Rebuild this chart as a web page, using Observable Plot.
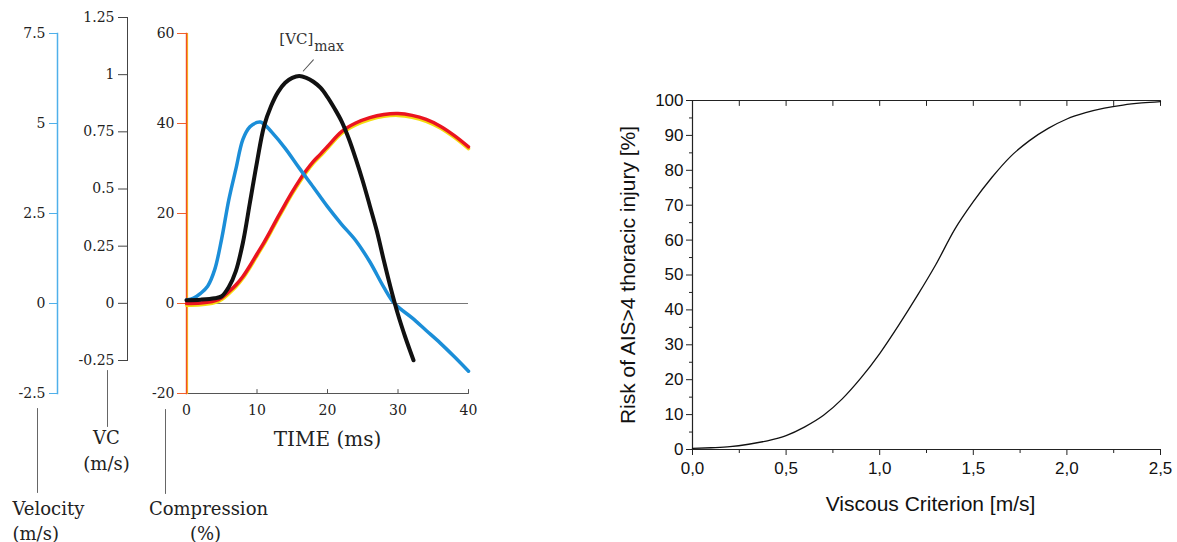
<!DOCTYPE html>
<html><head><meta charset="utf-8">
<script src="https://cdn.jsdelivr.net/npm/d3@7"></script>
<script src="https://cdn.jsdelivr.net/npm/@observablehq/plot@0.6"></script>
<style>
html,body{margin:0;padding:0;background:#fff;}
#wrap{position:relative;width:1177px;height:542px;overflow:hidden;background:#fff;}
#wrap svg{position:absolute;left:0;top:0;background:transparent;overflow:visible;}
</style></head><body><div id="wrap"></div>
<script>
// ---------- Left panel data (time in ms) ----------
const timeTicks = [0, 10, 20, 30, 40];
const velTicks = [-2.5, 0, 2.5, 5, 7.5];
const vcTicks = [-0.25, 0, 0.25, 0.5, 0.75, 1, 1.25];
const compTicks = [-20, 0, 20, 40, 60];

// Velocity (m/s) - blue
const velTime = [0,1,2,3,4,5,6,7,8,9,10,10.5,11,12,14,16,18,20,22,24,26,28,29.5,32,34,36,38,40];
const velValue = [0.1,0.15,0.28,0.48,0.94,1.81,2.88,3.73,4.56,4.91,5.03,5.04,4.98,4.78,4.31,3.76,3.23,2.69,2.2,1.75,1.16,0.45,0,-0.4,-0.75,-1.1,-1.48,-1.88];

// VC (m/s) - black
const vcTime = [0,2,4,5,6,7,8,9,10,11,12,13,14,15,16,17,18,19,20,21,22,23,24,25,26,27,28,29,30,31,32.2];
const vcValue = [0.014,0.016,0.022,0.031,0.071,0.141,0.265,0.441,0.618,0.775,0.863,0.925,0.965,0.986,0.994,0.986,0.969,0.943,0.902,0.852,0.796,0.722,0.633,0.535,0.427,0.316,0.186,0.063,-0.049,-0.145,-0.249];

// Compression (%) - red
const compTime = [0,2,4,5,6,7,8,9,10,11,12,13,14,15,16,17,18,19,20,22,24,26,28,30,32,34,36,38,40];
const compValue = [0,0.1,0.6,1.3,2.6,4.1,6,8.4,11,13.6,16.4,19.3,22.1,24.8,27.3,29.6,31.6,33.2,34.9,38.2,40.1,41.3,42,42.2,41.8,40.9,39.4,37.3,34.8];

// ---------- Right panel data ----------
const vcCriterion = [0,0.1,0.2,0.3,0.4,0.5,0.6,0.7,0.8,0.9,1.0,1.1,1.2,1.3,1.4,1.5,1.6,1.7,1.8,1.9,2.0,2.1,2.2,2.3,2.4,2.5];
const riskPct = [0.3,0.5,0.8,1.5,2.5,4.0,6.5,9.8,14.5,20.5,27.5,35.5,44,53,63,71,78,84,88.5,92,94.7,96.5,97.8,98.7,99.3,99.7];
const riskXTicks = [0,0.5,1.0,1.5,2.0,2.5];
const riskXMinor = [0.25,0.75,1.25,1.75,2.25];
const riskXTop = [0.25,0.5,0.75,1.0,1.25,1.5,1.75,2.0,2.25,2.5];
const riskYTicks = [0,10,20,30,40,50,60,70,80,90,100];
const riskYMinor = [5,15,25,35,45,55,65,75,85,95];

// ---------- Build ----------
const W = 1177, H = 542;
const serif = "DejaVu Serif";
const sans = "Liberation Sans";
const txt = "#222";
const timeDomain = [0, 40];
const timeRange = [186, 468];
const lineShape = {draw(ctx, l) { ctx.moveTo(0, 0); ctx.lineTo(0, -l); }};
const fmt = d => String(d);

const velData = velTime.map((t, i) => ({t, v: velValue[i]}));
const vcData = vcTime.map((t, i) => ({t, vc: vcValue[i]}));
const compData = compTime.map((t, i) => ({t, c: compValue[i]}));
const riskData = vcCriterion.map((x, i) => ({x, r: riskPct[i]}));
const vcPeak = d3.greatest(vcData, d => d.vc);

const wrap = document.getElementById("wrap");

// Compression plot (also carries the time axis)
const plotComp = Plot.plot({
  width: W, height: H,
  marginLeft: 186, marginRight: W - 468, marginTop: 33, marginBottom: H - 393,
  x: {domain: timeDomain, label: null},
  y: {domain: [compTicks[0], compTicks[compTicks.length - 1]], label: null},
  style: {background: "transparent", fontFamily: serif},
  marks: [
    Plot.ruleY([0], {stroke: "#777", strokeWidth: 1}),
    Plot.ruleY([compTicks[0]], {stroke: "#555", strokeWidth: 1}),
    Plot.vector(timeTicks, {x: d => d, y: () => compTicks[0], length: 4, rotate: 0, anchor: "start", shape: lineShape, stroke: "#555", strokeWidth: 1}),
    Plot.axisX(timeTicks, {anchor: "bottom", tickSize: 0, tickPadding: 12, fill: txt, fontSize: 14, fontFamily: serif, tickFormat: fmt, label: null}),
    Plot.text(["TIME (ms)"], {frameAnchor: "bottom", dy: 52, fontSize: 20, fontFamily: serif, fill: "#222"}),
    Plot.frame({anchor: "left", stroke: "#f6c21c", strokeWidth: 1.2, dx: 1}),
    Plot.frame({anchor: "left", stroke: "#f0502a", strokeWidth: 1.4}),
    Plot.axisY(compTicks, {anchor: "left", tickSize: 9, tickPadding: 3, stroke: "#f0602c", fill: txt, fontSize: 14, fontFamily: serif, tickFormat: fmt, label: null}),
    Plot.line(compData, {x: "t", y: "c", stroke: "#f4dc10", strokeWidth: 3.5, dy: 1.8, curve: "catmull-rom"}),
    Plot.line(compData, {x: "t", y: "c", stroke: "#ea1420", strokeWidth: 3.5, curve: "catmull-rom"}),
    Plot.vector([0], {frameAnchor: "bottom-left", dx: -21, dy: 16, length: 84, rotate: 180, anchor: "start", shape: lineShape, stroke: "#666", strokeWidth: 1}),
    Plot.text(["Compression"], {frameAnchor: "bottom-left", textAnchor: "middle", dx: 22, dy: 121, fontSize: 18, fontFamily: serif, fill: "#222"}),
    Plot.text(["(%)"], {frameAnchor: "bottom-left", textAnchor: "middle", dx: 19, dy: 146, fontSize: 18, fontFamily: serif, fill: "#222"})
  ]
});

// Velocity plot
const plotVel = Plot.plot({
  width: W, height: H,
  marginLeft: 57, marginRight: W - 468, marginTop: 33, marginBottom: H - 393,
  x: {domain: timeDomain, range: timeRange, axis: null, label: null},
  y: {domain: [velTicks[0], velTicks[velTicks.length - 1]], label: null},
  style: {background: "transparent", fontFamily: serif},
  marks: [
    Plot.frame({anchor: "left", stroke: "#4fb0ea", strokeWidth: 1.5}),
    Plot.axisY(velTicks, {anchor: "left", tickSize: 8, tickPadding: 4, stroke: "#4fb0ea", fill: txt, fontSize: 14, fontFamily: serif, tickFormat: fmt, label: null}),
    Plot.line(velData, {x: "t", y: "v", stroke: "#1b8ed8", strokeWidth: 3.5, curve: "catmull-rom"}),
    Plot.vector([0], {frameAnchor: "bottom-left", dx: -20, dy: 15, length: 84, rotate: 180, anchor: "start", shape: lineShape, stroke: "#666", strokeWidth: 1}),
    Plot.text(["Velocity"], {frameAnchor: "bottom-left", dx: -45, dy: 121, textAnchor: "start", fontSize: 18, fontFamily: serif, fill: "#222"}),
    Plot.text(["(m/s)"], {frameAnchor: "bottom-left", dx: -45, dy: 146, textAnchor: "start", fontSize: 18, fontFamily: serif, fill: "#222"})
  ]
});

// VC plot
const plotVC = Plot.plot({
  width: W, height: H,
  marginLeft: 127, marginRight: W - 468, marginTop: 17, marginBottom: H - 360,
  x: {domain: timeDomain, range: timeRange, axis: null, label: null},
  y: {domain: [vcTicks[0], vcTicks[vcTicks.length - 1]], label: null},
  style: {background: "transparent", fontFamily: serif},
  marks: [
    Plot.frame({anchor: "left", stroke: "#444", strokeWidth: 1}),
    Plot.axisY(vcTicks, {anchor: "left", tickSize: 9, tickPadding: 4, stroke: "#444", fill: txt, fontSize: 14, fontFamily: serif, tickFormat: fmt, label: null}),
    Plot.line(vcData, {x: "t", y: "vc", stroke: "#111", strokeWidth: 4, curve: "catmull-rom"}),
    Plot.vector([vcPeak], {x: "t", y: "vc", dx: 4, dy: -5, length: 15, rotate: 42, anchor: "start", shape: lineShape, stroke: "#555", strokeWidth: 1}),
    Plot.text([vcPeak], {x: "t", y: "vc", text: () => "[VC]", textAnchor: "end", dx: 14, dy: -37, fontSize: 15, fontFamily: serif, fill: "#333"}),
    Plot.text([vcPeak], {x: "t", y: "vc", text: () => "max", textAnchor: "start", dx: 15, dy: -30, fontSize: 14, fontFamily: serif, fill: "#333"}),
    Plot.vector([0], {frameAnchor: "bottom-left", dx: -20, dy: 10, length: 56, rotate: 180, anchor: "start", shape: lineShape, stroke: "#666", strokeWidth: 1}),
    Plot.text(["VC"], {frameAnchor: "bottom-left", textAnchor: "middle", dx: -21, dy: 83, fontSize: 18, fontFamily: serif, fill: "#222"}),
    Plot.text(["(m/s)"], {frameAnchor: "bottom-left", textAnchor: "middle", dx: -21, dy: 109, fontSize: 18, fontFamily: serif, fill: "#222"})
  ]
});

// Right: risk curve
const commaFmt = d => d.toFixed(1).replace(".", ",");
const plotRisk = Plot.plot({
  width: W, height: H,
  marginLeft: 692, marginRight: W - 1160, marginTop: 100, marginBottom: H - 449,
  x: {domain: [riskXTicks[0], riskXTicks[riskXTicks.length - 1]], label: null},
  y: {domain: [riskYTicks[0], riskYTicks[riskYTicks.length - 1]], label: null},
  style: {background: "transparent", fontFamily: sans},
  marks: [
    Plot.ruleY([riskYTicks[0]], {stroke: "#222", strokeWidth: 1.2}),
    Plot.ruleY([riskYTicks[riskYTicks.length - 1]], {stroke: "#222", strokeWidth: 1.2}),
    Plot.ruleX([riskXTicks[0]], {stroke: "#222", strokeWidth: 1.2}),
    Plot.axisY(riskYTicks, {anchor: "left", tickSize: 6, tickPadding: 3, stroke: "#222", fill: "#111", fontSize: 17, fontFamily: sans, tickFormat: fmt, label: null}),
    Plot.axisY(riskYMinor, {anchor: "left", tickSize: 3, stroke: "#222", fill: "none", tickFormat: () => "", label: null}),
    Plot.axisX(riskXTicks, {anchor: "bottom", tickSize: 6, tickPadding: 6, stroke: "#222", fill: "#111", fontSize: 17, fontFamily: sans, tickFormat: commaFmt, label: null}),
    Plot.axisX(riskXMinor, {anchor: "bottom", tickSize: 4, stroke: "#222", fill: "none", tickFormat: () => "", label: null}),
    Plot.vector(riskXTop, {x: d => d, y: () => riskYTicks[riskYTicks.length - 1], length: 5, rotate: 180, anchor: "start", shape: lineShape, stroke: "#222", strokeWidth: 1}),
    Plot.line(riskData, {x: "x", y: "r", stroke: "#111", strokeWidth: 1.3, curve: "monotone-x"}),
    Plot.text(["Viscous Criterion [m/s]"], {frameAnchor: "bottom", dx: 4, dy: 61, fontSize: 21, fontFamily: sans, fill: "#111"}),
    Plot.text(["Risk of AIS>4 thoracic injury [%]"], {frameAnchor: "left", textAnchor: "middle", dx: -64, rotate: -90, fontSize: 21, fontFamily: sans, fill: "#111"})
  ]
});

[plotComp, plotVel, plotVC, plotRisk].forEach(p => wrap.appendChild(p));
// make sure the tick labels of the left panel use the serif face at the intended size
[plotComp, plotVel, plotVC].forEach(p => {
  d3.select(p).selectAll('g[aria-label$="tick label"], g[aria-label$="tick label"] text')
    .style("font-family", "'DejaVu Serif', serif").style("font-size", "14px");
});
d3.select(plotRisk).selectAll('g[aria-label$="tick label"], g[aria-label$="tick label"] text')
  .style("font-family", "'Liberation Sans', Arial, sans-serif").style("font-size", "17px");
</script></body></html>
